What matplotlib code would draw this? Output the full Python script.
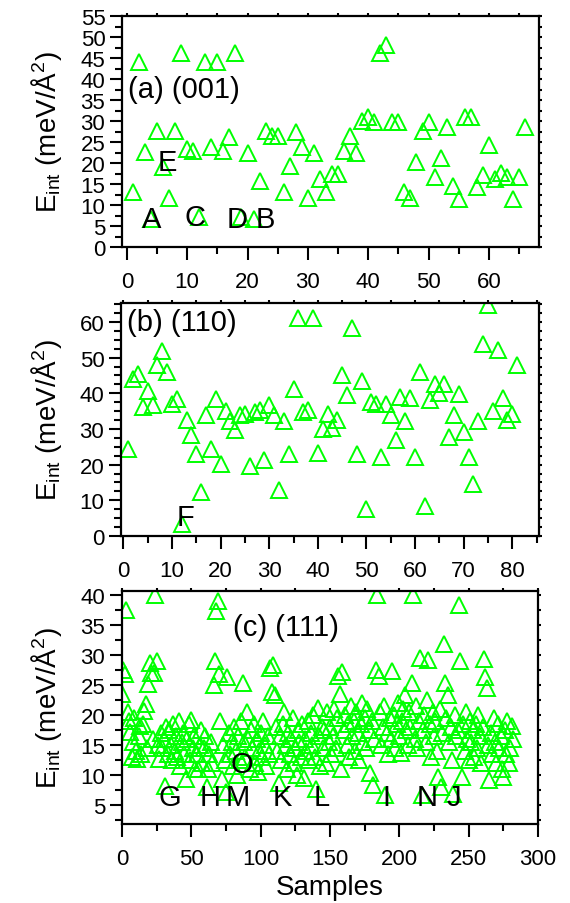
import matplotlib
matplotlib.use("Agg")
import matplotlib.pyplot as plt
import numpy as np
from matplotlib.ticker import MultipleLocator

plt.rcParams['font.family'] = ['Liberation Sans', 'DejaVu Sans']
plt.rcParams['mathtext.fontset'] = 'custom'
plt.rcParams['mathtext.rm'] = 'Liberation Sans'
plt.rcParams['mathtext.it'] = 'Liberation Sans:italic'

# panel (a) (001) surface, samples 1..66
e001 = [13.2, 44.1, 22.6, 6.7, 27.7, 19.0, 11.6, 27.7, 46.3, 23.3,
        22.9, 7.1, 44.1, 23.7, 44.1, 22.9, 26.1, 46.3, 7.1, 22.4,
        6.7, 15.8, 27.7, 26.5, 26.5, 13.0, 19.4, 27.5, 23.7, 11.6,
        22.5, 16.2, 13.0, 17.4, 17.4, 22.9, 26.4, 22.4, 30.1, 30.9,
        29.7, 46.3, 48.1, 29.7, 29.7, 13.2, 11.6, 20.2, 27.7, 29.8,
        16.6, 21.3, 28.5, 14.6, 11.4, 30.9, 30.9, 14.4, 17.1, 24.4,
        16.2, 17.6, 16.6, 11.4, 16.6, 28.5]

# panel (b) (110) surface, samples 1..81
e110 = [24.4, 44.0, 45.5, 36.1, 40.5, 36.6, 47.8, 51.8, 46.0, 37.1,
        38.3, 3.4, 32.4, 28.2, 23.0, 12.3, 33.8, 24.4, 38.5, 20.2,
        34.9, 32.1, 29.6, 33.8, 34.3, 19.5, 34.7, 35.2, 21.2, 36.8,
        33.8, 13.0, 32.1, 23.0, 41.3, 61.0, 34.7, 35.2, 61.2, 23.3,
        30.0, 34.3, 30.2, 32.4, 45.2, 39.4, 58.3, 23.0, 43.3, 7.6,
        37.6, 37.1, 22.1, 37.1, 33.8, 26.8, 39.0, 32.1, 38.7, 22.1,
        46.0, 8.5, 38.0, 42.7, 40.2, 42.7, 27.7, 33.8, 39.9, 29.1,
        22.1, 14.6, 32.1, 53.9, 64.7, 34.9, 52.0, 38.7, 32.4, 34.3,
        47.8]

# panel (c) (111) surface, samples 0..282
e111 = [23.6, 27.5, 26.9, 37.6, 20.5, 19.0, 17.3, 13.0, 15.5, 19.6,
        14.0, 12.8, 16.5, 18.2, 13.5, 18.5, 20.8, 21.9, 14.5, 25.2,
        28.7, 27.0, 16.0, 27.0, 40.0, 29.0, 15.0, 12.8, 17.0, 14.5,
        16.0, 8.3, 18.0, 13.5, 17.5, 15.0, 12.5, 18.5, 14.0, 16.5,
        13.0, 19.0, 11.5, 15.5, 17.0, 13.5, 9.4, 16.0, 18.5, 12.5,
        19.3, 14.5, 16.5, 11.0, 13.5, 11.0, 15.0, 17.5, 12.0, 14.5,
        16.5, 8.1, 11.0, 13.5, 15.5, 12.0, 25.0, 29.0, 37.3, 39.1,
        26.8, 19.0, 9.4, 15.0, 12.5, 7.2, 26.3, 17.0, 13.5, 15.5,
        11.5, 18.0, 14.0, 10.0, 16.5, 12.5, 19.0, 25.3, 15.5, 13.0,
        20.5, 16.0, 11.0, 17.5, 14.5, 18.5, 12.0, 16.0, 10.5, 14.0,
        17.0, 13.0, 19.0, 15.0, 11.5, 16.5, 13.5, 27.8, 23.9, 28.4,
        23.3, 18.0, 14.0, 8.8, 16.5, 12.5, 18.5, 20.5, 15.0, 11.0,
        17.0, 13.5, 16.0, 19.5, 12.0, 14.5, 10.0, 17.5, 15.5, 13.0,
        18.5, 9.6, 16.0, 14.0, 19.0, 12.5, 17.0, 15.0, 20.0, 13.0,
        7.7, 21.2, 16.5, 11.5, 18.0, 14.5, 17.5, 12.0, 20.5, 15.5,
        18.0, 13.5, 16.5, 21.0, 14.5, 19.5, 26.5, 23.6, 11.1, 27.2,
        17.5, 20.0, 15.0, 18.5, 13.0, 21.5, 16.5, 19.0, 14.0, 20.5,
        17.0, 12.5, 18.5, 22.0, 15.5, 19.5, 14.5, 21.0, 17.5, 10.4,
        19.0, 8.4, 16.0, 27.6, 40.0, 26.5, 20.5, 15.0, 18.0, 21.5,
        6.8, 17.0, 13.5, 19.5, 16.0, 27.3, 20.0, 14.5, 18.5, 22.0,
        16.5, 13.7, 19.0, 21.0, 23.4, 17.5, 15.0, 20.5, 18.0, 25.3,
        40.0, 16.0, 21.5, 14.5, 19.0, 29.5, 6.8, 17.5, 20.0, 15.5,
        22.5, 29.2, 18.5, 13.0, 20.5, 16.5, 19.0, 14.0, 9.7, 21.0,
        8.0, 17.0, 31.9, 25.3, 19.5, 23.3, 15.5, 18.0, 12.5, 6.9,
        20.0, 16.5, 17.5, 38.4, 29.1, 9.7, 18.5, 14.0, 20.5, 16.0,
        12.5, 19.0, 15.5, 17.5, 13.0, 18.5, 14.5, 20.0, 16.5, 12.0,
        18.0, 29.4, 26.3, 24.6, 15.0, 9.2, 17.0, 13.5, 19.5, 15.5,
        12.0, 18.5, 14.5, 16.5, 11.0, 9.7, 17.5, 13.5, 19.0, 12.0,
        14.6, 18.3, 16.0]

green = '#00ff00'
W, H = 570, 904


def add_axes(left, top, right, bottom):
    return fig.add_axes([left / W, 1 - bottom / H, (right - left) / W, (bottom - top) / H])


def style(ax, xmaj, xmin, ymaj, ymin):
    ax.xaxis.set_major_locator(MultipleLocator(xmaj))
    ax.xaxis.set_minor_locator(MultipleLocator(xmin))
    ax.yaxis.set_major_locator(MultipleLocator(ymaj))
    ax.yaxis.set_minor_locator(MultipleLocator(ymin))
    ax.tick_params(which='both', top=True, right=True, direction='out', width=1.5)
    ax.tick_params(axis='x', which='major', length=9, labelsize=16, pad=8)
    ax.tick_params(axis='y', which='major', length=9, labelsize=16, pad=3)
    ax.tick_params(which='minor', length=5)
    # short marks on the top and right frame
    for side in ('top', 'right'):
        pass
    ax.xaxis.set_tick_params(which='both', top=True)
    for t in ax.xaxis.get_major_ticks() + ax.xaxis.get_minor_ticks():
        t.tick2line.set_markersize(2.5)
    for t in ax.yaxis.get_major_ticks() + ax.yaxis.get_minor_ticks():
        t.tick2line.set_markersize(2.5)
    for s in ax.spines.values():
        s.set_linewidth(1.6)


def scatter(ax, x, y):
    ax.plot(x, y, linestyle='none', marker='^', markersize=12, markerfacecolor='none',
            markeredgecolor=green, markeredgewidth=1.4)


fig = plt.figure(figsize=(W / 100, H / 100), dpi=100)

# (a)
ax1 = add_axes(122, 17, 539, 248)
scatter(ax1, np.arange(1, len(e001) + 1), e001)
ax1.set_xlim(-0.8, 68.3)
ax1.set_ylim(0, 55)
style(ax1, 10, 5, 5, 2.5)
ax1.text(0.2, 37.6, '(a) (001)', fontsize=21, va='center')
for lab, lx, ly in [('A', 4.1, 6.7), ('C', 11.3, 7.1), ('D', 18.2, 6.7), ('B', 22.9, 6.7), ('E', 6.8, 20.2)]:
    ax1.text(lx, ly, lab, fontsize=21, ha='center', va='center')

# (b)
ax2 = add_axes(121, 304, 539, 537)
scatter(ax2, np.arange(1, len(e110) + 1), e110)
ax2.set_xlim(-0.5, 85.5)
ax2.set_ylim(0, 65.3)
style(ax2, 10, 5, 10, 2.5)
ax2.text(0.7, 60.1, '(b) (110)', fontsize=21, va='center')
ax2.text(12.8, 5.3, 'F', fontsize=21, ha='center', va='center')

# (c)
ax3 = add_axes(122, 592, 538, 825)
scatter(ax3, np.arange(0, len(e111)), e111)
ax3.set_xlim(0, 300)
ax3.set_ylim(1.9, 40.7)
style(ax3, 50, 25, 5, 2.5)
ax3.text(80, 34.75, '(c) (111)', fontsize=21, va='center')
for lab, lx in [('G', 34.6), ('H', 63.5), ('M', 83.7), ('K', 115.4), ('L', 144.3),
                ('I', 191), ('N', 220), ('J', 239.5)]:
    ax3.text(lx, 6.4, lab, fontsize=21, ha='center', va='center')
ax3.text(86.6, 11.9, 'O', fontsize=21, ha='center', va='center')
ax3.set_xlabel('Samples', fontsize=20, labelpad=4)

for ax in (ax1, ax2, ax3):
    pos = ax.get_position()
    fig.text(46 / W, pos.y0 + pos.height / 2, r'E$_{\rm int}$ (meV/Å$^2$)', rotation=90,
             fontsize=20, ha='center', va='center')

fig.savefig('out.png', dpi=100)
